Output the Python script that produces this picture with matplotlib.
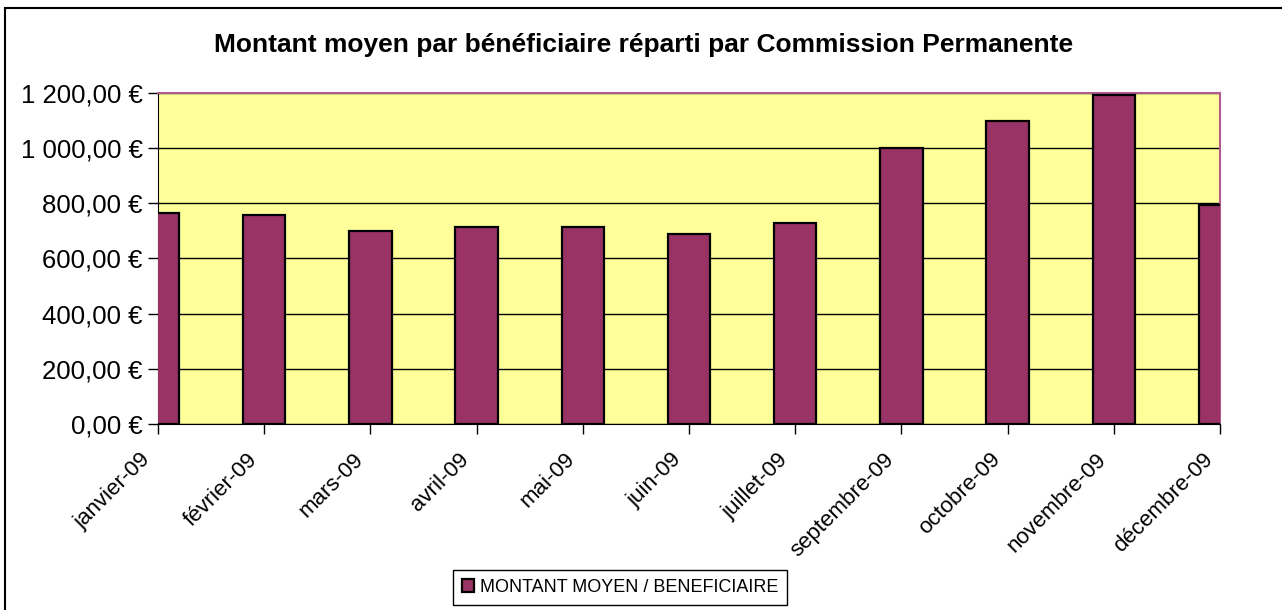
import numpy as np
import matplotlib
matplotlib.use('Agg')
import matplotlib.pyplot as plt
import matplotlib.transforms as mtransforms
from matplotlib.patches import Rectangle

plt.rcParams['font.family'] = ['Liberation Sans', 'DejaVu Sans']

mois = ['janvier-09', 'février-09', 'mars-09', 'avril-09', 'mai-09', 'juin-09',
        'juillet-09', 'septembre-09', 'octobre-09', 'novembre-09', 'décembre-09']
montant = [765, 758, 700, 715, 715, 687, 729, 1000, 1098, 1193, 794]
serie = 'MONTANT MOYEN / BENEFICIAIRE'
titre = 'Montant moyen par bénéficiaire réparti par Commission Permanente'
y_ticks = [0, 200, 400, 600, 800, 1000, 1200]

W, H = 1282, 610
fig = plt.figure(figsize=(W / 100, H / 100), dpi=100)
ax = fig.add_axes([158 / W, 1 - 424 / H, (1220 - 158) / W, (424 - 92.7) / H])

ax.set_facecolor('#FFFF99')
x = np.arange(len(mois))
bars = ax.bar(x, montant, width=0.4, color='#993366', edgecolor='black',
              linewidth=1.6, zorder=3, label=serie)

ax.set_xlim(0, len(mois) - 1)
ax.set_ylim(0, 1200)
ax.set_yticks(y_ticks)
ax.set_yticklabels([('{:,.2f}'.format(v)).replace(',', ' ').replace('.', ',') + ' €' for v in y_ticks],
                   fontsize=18.5)
ax.yaxis.grid(True, color='black', linewidth=1.0, zorder=1)
ax.set_axisbelow(True)

# étiquettes des mois : décalées comme dans Excel (fin du texte juste avant la graduation)
ax.set_xticks(x)
ax.set_xticklabels([])
offset = mtransforms.ScaledTranslation(-18 / 100, -25 / 100, fig.dpi_scale_trans)
for i, m in enumerate(mois):
    ax.text(x[i], 0, m, transform=ax.get_xaxis_transform() + offset, rotation=45,
            ha='right', va='top', rotation_mode='anchor', fontsize=16, clip_on=False)

ax.tick_params(axis='both', direction='out', length=7, width=1.0, color='black', pad=4)

for side in ['top', 'right']:
    ax.spines[side].set_color('#B05C8C')
    ax.spines[side].set_linewidth(1.5)
ax.spines['left'].set_color('black')
ax.spines['bottom'].set_color('black')

fig.text(644 / W, 1 - 45 / H, titre, ha='center', va='center', fontsize=19, fontweight='bold')

leg = fig.legend(loc='upper center', bbox_to_anchor=(620 / W, 1 - 570 / H), borderaxespad=0,
                 fancybox=False, edgecolor='black', framealpha=1, fontsize=13,
                 handlelength=0.7, handleheight=0.7, handletextpad=0.3, borderpad=0.5)
leg.get_frame().set_linewidth(1.0)

fig.patches.append(Rectangle((5 / W, -0.1), 1.1, 1.1 - 8 / H, transform=fig.transFigure,
                             fill=False, edgecolor='black', linewidth=1.5))

fig.savefig('out.png', dpi=100)
